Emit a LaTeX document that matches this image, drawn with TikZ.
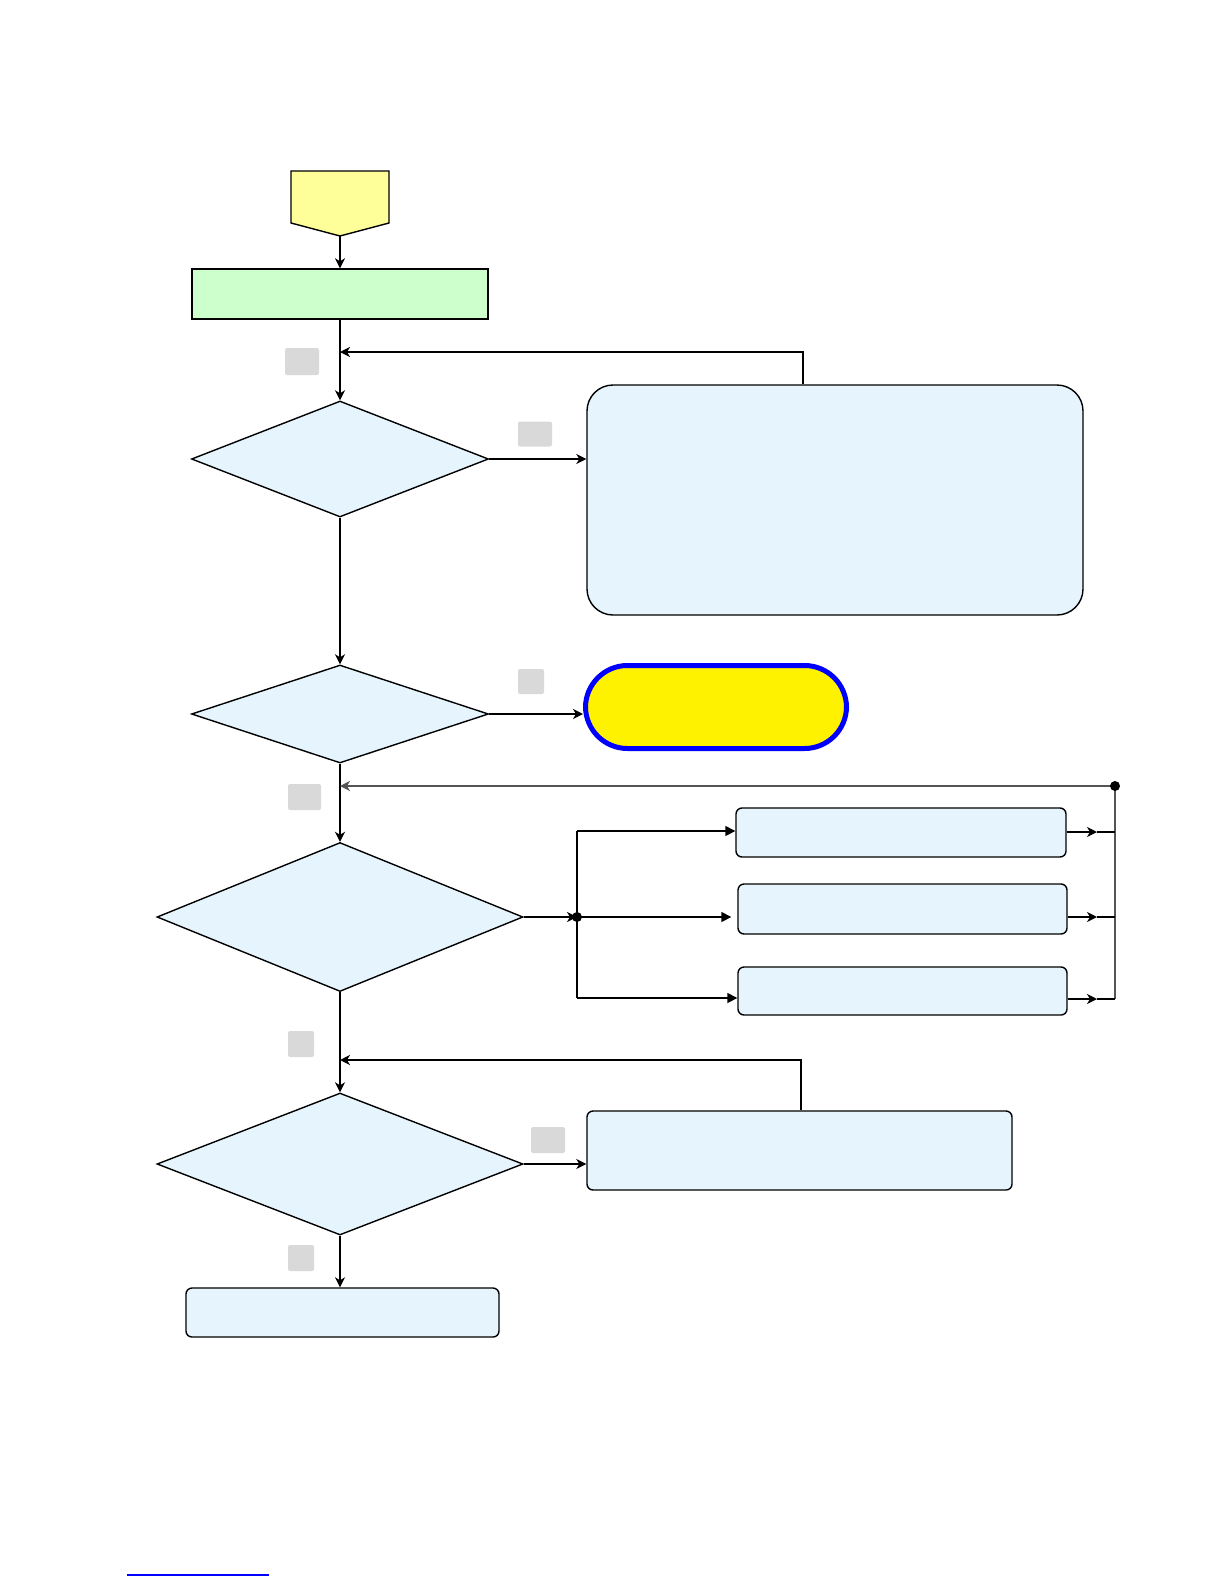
\documentclass[tikz,border=0pt]{standalone}
\usetikzlibrary{shapes.geometric,arrows.meta}
\definecolor{flowBlueFill}{HTML}{E6F5FD}
\definecolor{flowGreenFill}{HTML}{CCFFCC}
\definecolor{flowStartFill}{HTML}{FFFF99}
\definecolor{flowLabelFill}{HTML}{D9D9D9}
\definecolor{flowBusGray}{HTML}{555555}
\begin{document}
\begin{tikzpicture}[
    x=0.5pt, y=-0.5pt,
    flowStartStyle/.style={draw, line width=0.7pt, fill=flowStartFill},
    flowInitStyle/.style={draw, line width=0.7pt, fill=flowGreenFill, inner sep=0pt},
    flowDecisionStyle/.style={diamond, draw, line width=0.7pt, fill=flowBlueFill, inner sep=0pt},
    flowBoxStyle/.style={draw, line width=0.7pt, fill=flowBlueFill, rounded corners=3pt, inner sep=0pt},
    flowStopStyle/.style={draw=blue, line width=2.5pt, fill=yellow, rounded corners=21pt, inner sep=0pt},
    flowLabelStyle/.style={fill=flowLabelFill, rounded corners=1pt, inner sep=0pt},
    flowLine/.style={line width=0.8pt},
    flowArrow/.style={line width=0.8pt, -{Stealth[length=5pt, width=5pt, inset=1.5pt]}},
    flowBranch/.style={line width=0.8pt, -{Triangle[length=5pt, width=5pt]}},
    flowBus/.style={line width=0.8pt, flowBusGray}
]
    \useasboundingbox (0,0) rectangle (1224,1584);

    % 开始
    \draw[flowStartStyle] (291,171) -- (389,171) -- (389,223) -- (340,236) -- (291,223) -- cycle;
    \coordinate (start) at (340,236);

    % 节点
    \node[flowInitStyle, minimum width=148pt, minimum height=25pt] (init) at (340,294) {};
    \node[flowDecisionStyle, minimum width=148.5pt, minimum height=58pt] (dec1) at (340,459) {};
    \node[flowBoxStyle, rounded corners=13pt, minimum width=248pt, minimum height=115pt] (bigbox) at (835,500) {};
    \node[flowDecisionStyle, minimum width=148.5pt, minimum height=49pt] (dec2) at (340,714) {};
    \node[flowStopStyle, minimum width=130.5pt, minimum height=41.5pt] (stop) at (716,707) {};
    \node[flowDecisionStyle, minimum width=183pt, minimum height=74.5pt] (dec3) at (340,917) {};
    \node[flowBoxStyle, minimum width=165pt, minimum height=24.5pt] (boxA) at (901,832.5) {};
    \node[flowBoxStyle, minimum width=164.5pt, minimum height=25pt] (boxB) at (902.5,909) {};
    \node[flowBoxStyle, minimum width=164.5pt, minimum height=24pt] (boxC) at (902.5,991) {};
    \node[flowDecisionStyle, minimum width=183pt, minimum height=71pt] (dec4) at (340,1164) {};
    \node[flowBoxStyle, minimum width=212.5pt, minimum height=39.5pt] (boxD) at (799.5,1150.5) {};
    \node[flowBoxStyle, minimum width=156.5pt, minimum height=24.5pt] (boxE) at (342.5,1312.5) {};

    % 标签
    \node[flowLabelStyle, minimum width=17pt, minimum height=13.5pt] (lbl1) at (302,361.5) {};
    \node[flowLabelStyle, minimum width=17pt, minimum height=12.5pt] (lbl2) at (535,434) {};
    \node[flowLabelStyle, minimum width=13pt, minimum height=12.5pt] (lbl3) at (531,681.5) {};
    \node[flowLabelStyle, minimum width=16.5pt, minimum height=13pt] (lbl4) at (304.5,797) {};
    \node[flowLabelStyle, minimum width=13pt, minimum height=13pt] (lbl5) at (301,1044) {};
    \node[flowLabelStyle, minimum width=17pt, minimum height=13pt] (lbl6) at (548,1140) {};
    \node[flowLabelStyle, minimum width=13pt, minimum height=13pt] (lbl7) at (301,1258) {};

    % 主流程
    \draw[flowArrow] (start) -- (init.north);
    \draw[flowArrow] (init.south) -- (dec1.north);
    \draw[flowArrow] (dec1.east) -- (dec1.east -| bigbox.west);
    \draw[flowArrow] (dec1.south) -- (dec2.north);
    \draw[flowArrow] (dec2.east) -- (dec2.east -| stop.west);
    \draw[flowArrow] (dec2.south) -- (dec3.north);
    \draw[flowArrow] (dec3.south) -- (dec4.north);
    \draw[flowArrow] (dec4.east) -- (dec4.east -| boxD.west);
    \draw[flowArrow] (dec4.south) -- (dec4.south |- boxE.north);

    % 回路
    \coordinate (fb1) at (803,352);
    \draw[flowArrow] (bigbox.north -| fb1) -- (fb1) -- (fb1 -| init.south);
    \coordinate (fb2) at (801,1060);
    \draw[flowArrow] (boxD.north -| fb2) -- (fb2) -- (fb2 -| dec4.north);

    % 分支
    \coordinate (split) at (577,917);
    \coordinate (brA) at (577,831);
    \coordinate (brC) at (577,998);
    \draw[flowArrow] (dec3.east) -- (split);
    \draw[flowLine] (brA) -- (brC);
    \fill (split) circle (2.5pt);
    \draw[flowBranch] (brA) -- (brA -| boxA.west);
    \draw[flowBranch] (split) -- ([xshift=-3pt]split -| boxB.west);
    \draw[flowBranch] (brC) -- (brC -| boxC.west);

    % 汇合
    \coordinate (busdot) at (1115,786);
    \coordinate (busend) at (1115,999);
    \draw[flowBus] (busdot) -- (busend);
    \draw[flowBus, -{Stealth[length=5pt, width=5pt, inset=1.5pt]}] (busdot) -- (busdot -| dec2.south);
    \fill (busdot) circle (2.5pt);
    \foreach \n/\y in {A/832, B/917, C/999} {
        \draw[flowArrow] (box\n.east |- 0,\y) -- (1097,\y);
        \draw[line width=0.6pt] (1097,\y) -- (busend |- 0,\y);
    }

    % 页脚
    \draw[blue, line width=0.6pt] (127,1575) -- (269,1575);
\end{tikzpicture}
\end{document}
